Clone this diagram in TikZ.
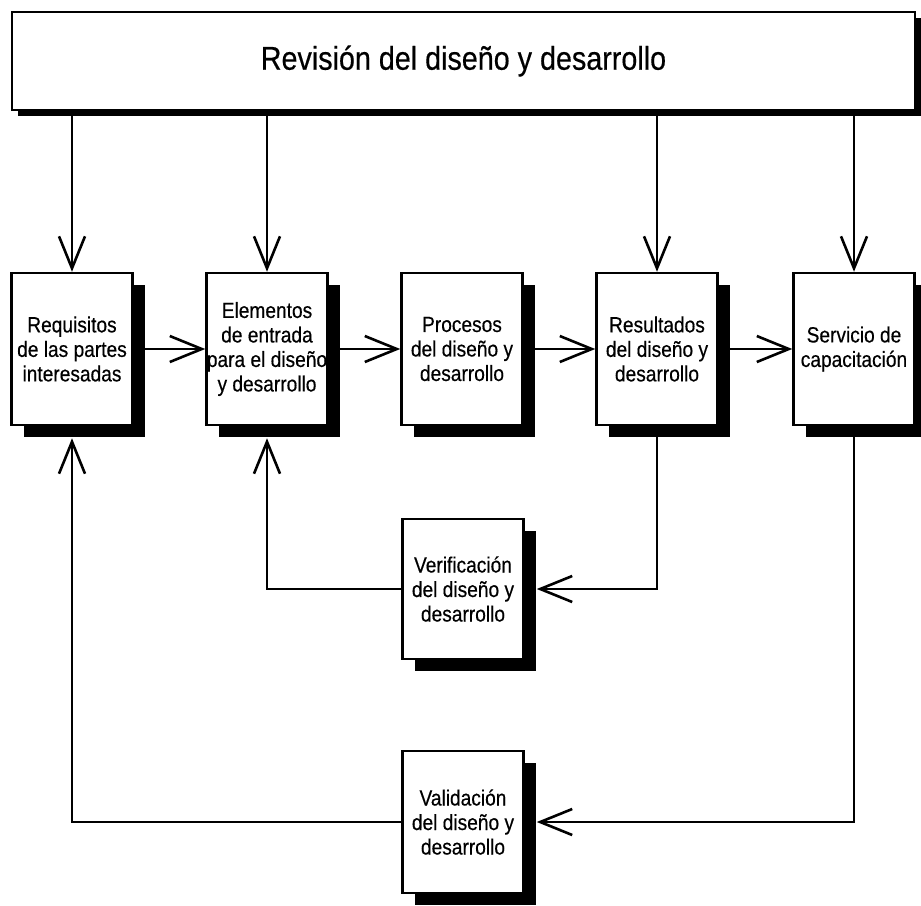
\documentclass[tikz,border=0pt]{standalone}
\usepackage{fontspec}
\setmainfont{Liberation Sans}[FakeStretch=0.87,FakeBold=0.4]
\usetikzlibrary{arrows.meta,shadows}

\begin{document}
\begin{tikzpicture}[x=1pt,y=-1pt]
    \tikzset{box/.style={draw, line width=2.5pt, fill=white, inner sep=0pt,
        minimum width=121pt, minimum height=152pt, align=center,
        font=\fontsize{22}{24.5}\selectfont}}
    \tikzset{shade/.style={drop shadow={shadow xshift=#1, shadow yshift=-#1,
        fill=black, opacity=1}}}
    \tikzset{arr/.style={line width=1.6pt,
        -{Straight Barb[length=32pt,width=26pt,line width=2.6pt]}}}
    \useasboundingbox (0,0) rectangle (921,905);
    \node[box, shade=6pt, minimum width=903pt, minimum height=98pt,
        font=\fontsize{33}{38}\selectfont] (rev) at (463.5,61)
        {Revisión del diseño y desarrollo};
    \node[box, shade=12pt] (req) at (72,349) {Requisitos\\de las partes\\interesadas};
    \node[box, shade=12pt] (inp) at (267,349) {Elementos\\de entrada\\para el diseño\\y desarrollo};
    \node[box, shade=12pt] (pro) at (462,349) {Procesos\\del diseño y\\desarrollo};
    \node[box, shade=12pt] (res) at (657,349) {Resultados\\del diseño y\\desarrollo};
    \node[box, shade=12pt] (ser) at (854,349) {Servicio de\\capacitación};
    \node[box, shade=12pt, minimum height=140pt] (ver) at (463,589) {Verificación\\del diseño y\\desarrollo};
    \node[box, shade=12pt, minimum height=142pt] (val) at (463,822) {Validación\\del diseño y\\desarrollo};
    \foreach \n in {req,inp,res,ser}
        \draw[arr] (rev.south -| \n.north) -- (\n.north);
    \draw[arr] (req.east) -- (inp.west);
    \draw[arr] (inp.east) -- (pro.west);
    \draw[arr] (pro.east) -- (res.west);
    \draw[arr] (res.east) -- (ser.west);
    \draw[arr, shorten >=12pt] (res.south) |- (ver.east);
    \draw[arr, shorten >=12pt] (ver.west) -| (inp.south);
    \draw[arr, shorten >=12pt] (ser.south) |- (val.east);
    \draw[arr, shorten >=12pt] (val.west) -| (req.south);
\end{tikzpicture}
\end{document}
